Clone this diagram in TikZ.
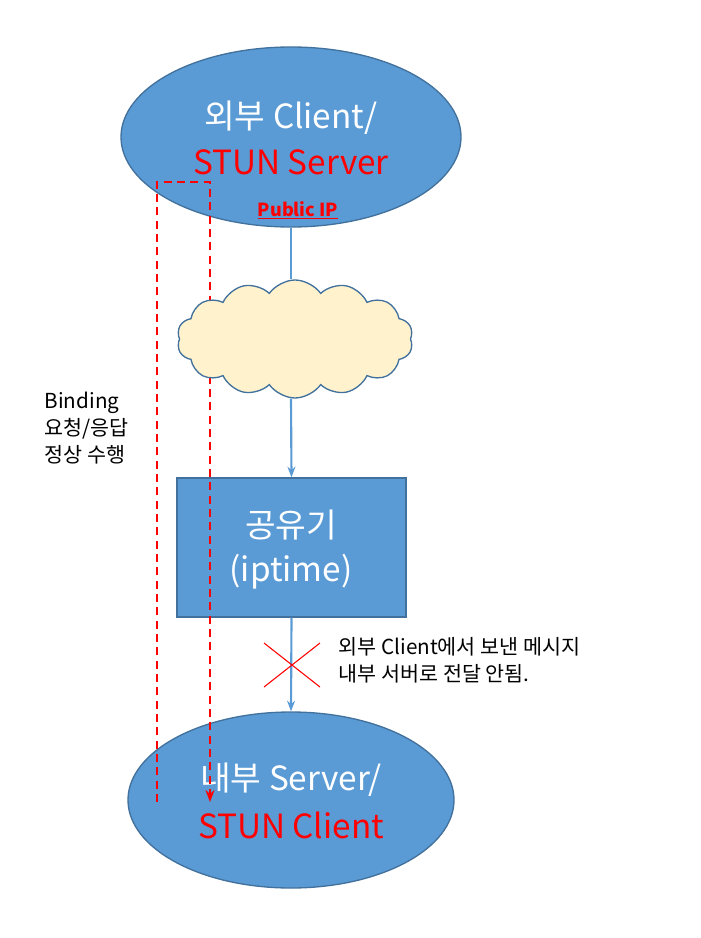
\documentclass[tikz,border=0pt]{standalone}
\usepackage{fontspec}
\setmainfont{Noto Sans CJK KR}
\usetikzlibrary{shapes.symbols,shapes.geometric,arrows.meta}
\definecolor{blu}{HTML}{5B9BD5}
\definecolor{bdr}{HTML}{41719C}
\definecolor{cld}{HTML}{FFF2CC}
\begin{document}
\begin{tikzpicture}[x=0.75pt,y=-0.75pt,
  shp/.style={fill=blu,draw=bdr,line width=1pt},
  big/.style={font=\fontsize{25}{30}\selectfont},
  small/.style={font=\fontsize{15.5}{20}\selectfont,align=left,anchor=west},
  conn/.style={draw=blu,line width=1.6pt},
  red dash/.style={draw=red,line width=2pt,dash pattern=on 6pt off 4pt}]
\useasboundingbox (0,0) rectangle (700,938);
\node[shp,ellipse,minimum width=340*0.75pt,minimum height=180*0.75pt] (top) at (291,137) {};
\node[shp,ellipse,minimum width=326*0.75pt,minimum height=176*0.75pt] (bot) at (291,800) {};
\node[shp,minimum width=229*0.75pt,minimum height=139*0.75pt] (box) at (291.5,547.5) {};
\node[big,text=white] (t1) at (291,118) {외부 Client/};
\node[big,text=red] (t2) at (291,162) {STUN Server};
\node[text=red,font=\bfseries\fontsize{13.5}{15}\selectfont] (pip) at (298,210) {\underline{Public IP}};
\node[big,text=white] (b1) at (291,525) {공유기};
\node[big,text=white] (b2) at (291,572) {(iptime)};
\node[big,text=white] (c1) at (291,780) {내부 Server/};
\node[big,text=red] (c2) at (291,825) {STUN Client};
\coordinate (dl) at (157,802);
\coordinate (dtl) at (157,182);
\coordinate (dtr) at (210,182);
\coordinate (dr) at (210,802);
\draw[red dash] (dl) -- (dtl) -- (dtr) -- (dr);
\draw[draw=red,line width=2pt,-{Stealth[length=9pt]}] (210,790) -- (dr);
\node[cloud,cloud puffs=14,cloud puff arc=110,aspect=2,fill=cld,draw=bdr,line width=1pt,minimum width=236*0.75pt,minimum height=118*0.75pt] (cloud) at (295,339) {};
\draw[conn] (top.south) -- (top.south |- cloud.north);
\draw[conn,-{Stealth[length=8pt]}] (top.south |- cloud.south) -- (box.north);
\draw[conn,-{Stealth[length=8pt]}] (box.south) -- (bot.north);
\coordinate (x1) at (264,643); \coordinate (x2) at (320,687);
\coordinate (x3) at (264,687); \coordinate (x4) at (320,643);
\draw[red,line width=0.8pt] (x1) -- (x2) (x3) -- (x4);
\node[small] (msg) at (334,660) {외부 Client에서 보낸 메시지\\내부 서버로 전달 안됨.};
\node[small] (bind) at (40,428) {Binding\\요청/응답\\정상 수행};
\end{tikzpicture}
\end{document}
